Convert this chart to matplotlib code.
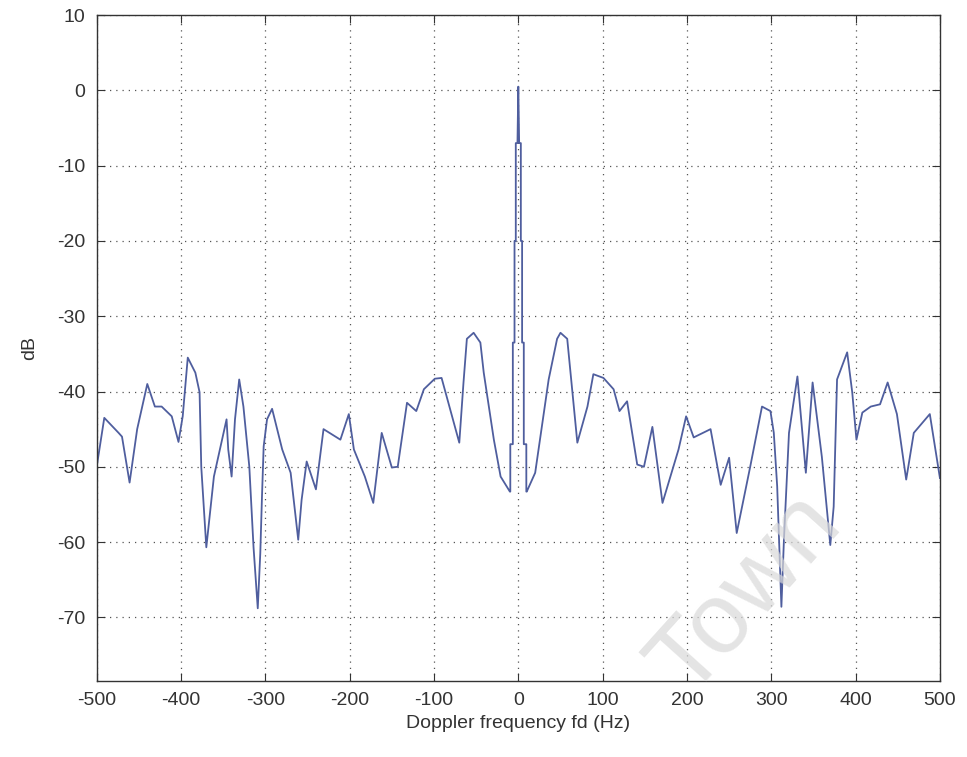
import matplotlib.pyplot as plt
import numpy as np

# Doppler spectrum (Hz, dB)
freq_left = [-500, -491, -474, -470, -461, -452, -440, -431, -423, -411,
             -403, -398, -392, -383, -378, -376, -370, -361, -346, -344,
             -340, -336, -331, -326, -319, -314, -309, -306, -304, -302,
             -298, -292, -280, -270, -261, -257, -251, -240, -231, -211,
             -201, -195, -182, -172, -162, -150, -143, -132, -121, -112,
             -99, -91, -70, -65, -61, -53, -45, -41, -29, -21, -10]
db_left = [-50, -43.5, -45.5, -46, -52.1, -45, -39, -42, -42, -43.3,
           -46.7, -43.3, -35.5, -37.5, -40.1, -50, -60.7, -51.3, -43.7, -47.7,
           -51.3, -43.7, -38.4, -42, -50, -60.7, -68.8, -61.5, -54, -47.3,
           -43.7, -42.3, -47.7, -50.8, -59.7, -54.4, -49.3, -53, -45, -46.4,
           -43, -47.7, -51.3, -54.8, -45.5, -50.1, -50, -41.5, -42.6, -39.7,
           -38.3, -38.2, -46.8, -38.8, -33, -32.2, -33.5, -37.5, -46.4, -51.3, -53.3]

# the narrow peak at 0 Hz
freq_mid = [-9.5, -9.5, -6.5, -6.5, -4.5, -4.5, -3, -3, -1, 0,
            1, 3, 3, 4.5, 4.5, 6.5, 6.5, 9.5, 9.5]
db_mid = [-53.3, -47, -47, -33.5, -33.5, -20, -20, -7, -7, 0.5,
          -7, -7, -20, -20, -33.5, -33.5, -47, -47, -53.3]

freq_right = [10, 20, 36, 46, 50, 58, 60, 70, 82, 89,
              101, 113, 120, 129, 141, 149, 159, 171, 190, 199,
              208, 228, 240, 250, 259, 275, 289, 299, 303, 307,
              312, 315, 321, 331, 341, 349, 360, 370, 374, 378,
              390, 396, 401, 408, 418, 429, 438, 449, 460, 469,
              488, 500]
db_right = [-53.3, -50.8, -38.4, -33, -32.2, -33, -35.3, -46.8, -42, -37.7,
            -38.2, -39.7, -42.6, -41.3, -49.7, -50, -44.7, -54.8, -47.7, -43.3,
            -46.1, -45, -52.4, -48.8, -58.8, -50, -42, -42.6, -45.5, -52.6,
            -68.6, -59.7, -45.5, -38, -50.8, -38.8, -48.7, -60.4, -55.3, -38.4,
            -34.8, -40.1, -46.4, -42.8, -42, -41.7, -38.8, -43, -51.7, -45.5,
            -43, -51.5]

xticks = [-500, -400, -300, -200, -100, 0, 100, 200, 300, 400, 500]
yticks = [-70, -60, -50, -40, -30, -20, -10, 0, 10]

freq = np.array(freq_left + freq_mid + freq_right)
db = np.array(db_left + db_mid + db_right)

plt.rcParams['font.family'] = ['Liberation Sans', 'DejaVu Sans']
plt.rcParams['axes.unicode_minus'] = False

fig = plt.figure(figsize=(9.67, 7.57), dpi=100)
ax = fig.add_axes([0.100, 0.100, 0.872, 0.880])

ax.plot(freq, db, color='#4f5e9e', linewidth=1.3)

ax.set_xlim(-500, 500)
ax.set_ylim(-78.5, 10)
ax.set_xticks(xticks)
ax.set_yticks(yticks)
ax.grid(True, linestyle=(0, (1, 4)), color='#555555', linewidth=0.9)
ax.tick_params(direction='in', length=6, top=True, right=True,
               labelsize=14, colors='#333333', pad=8)
for s in ax.spines.values():
    s.set_color('#333333')
    s.set_linewidth(1.0)

ax.set_xlabel('Doppler frequency fd (Hz)', fontsize=14, color='#333333', labelpad=4)
ax.set_ylabel('dB', fontsize=14, color='#333333', labelpad=14)

# faint watermark of the scanned original
fig.text(0.772, 0.215, 'Town', fontsize=72, color='#d9d9d9', alpha=0.7,
         rotation=48, ha='center', va='center')

fig.savefig('out.png', dpi=100)
